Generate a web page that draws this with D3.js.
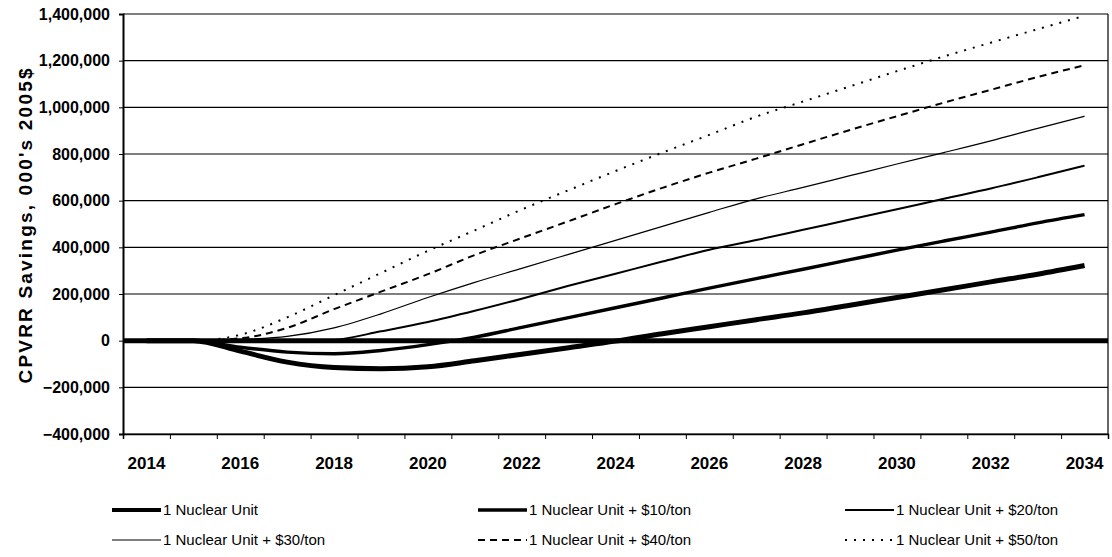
<!DOCTYPE html>
<html lang="en">
<head>
    <meta charset="UTF-8">
    <title>CPVRR Savings</title>
    <script src="https://d3js.org/d3.v7.min.js"></script>
    <style>
        body { margin: 0; background: #fff; }
        text { font-family: "Liberation Sans", Arial, sans-serif; fill: #000; }
        .tick-label { font-weight: bold; font-size: 16px; }
        .year-label { font-weight: bold; font-size: 17px; }
        .legend text { font-size: 15px; }
    </style>
</head>
<body>
    <div id="chart-container"></div>
    <script>
        // values, in thousands of 2005$
        const years = [2014, 2015, 2016, 2017, 2018, 2019, 2020, 2021, 2022, 2023, 2024,
                       2025, 2026, 2027, 2028, 2029, 2030, 2031, 2032, 2033, 2034];
        const nuclear = [0, 0, -45, -92, -115, -120, -112, -86, -58, -30, -2,
                         30, 60, 90, 119, 152, 185, 218, 252, 285, 322];
        const plus10 = [0, 0, -28, -49, -56, -42, -17, 15, 57, 99, 141,
                        183, 225, 266, 306, 347, 388, 427, 465, 505, 540];
        const plus20 = [0, 0, 0, -5, 3, 40, 80, 128, 180, 235, 287,
                        339, 390, 431, 475, 519, 563, 608, 652, 700, 750];
        const plus30 = [0, 0, 5, 18, 55, 115, 185, 250, 310, 370, 430,
                        490, 550, 608, 657, 707, 757, 806, 856, 910, 962];
        const plus40 = [0, 0, 10, 55, 135, 210, 285, 367, 440, 512, 585,
                        655, 720, 780, 842, 903, 962, 1020, 1075, 1130, 1180];
        const plus50 = [0, 0, 25, 100, 195, 290, 385, 473, 562, 645, 727,
                        806, 882, 960, 1025, 1090, 1155, 1218, 1277, 1335, 1392];
        const seriesNames = ["1 Nuclear Unit", "1 Nuclear Unit + $10/ton", "1 Nuclear Unit + $20/ton",
                             "1 Nuclear Unit + $30/ton", "1 Nuclear Unit + $40/ton", "1 Nuclear Unit + $50/ton"];
        const yTicks = [-400000, -200000, 0, 200000, 400000, 600000, 800000, 1000000, 1200000, 1400000];
        const labelYears = [2014, 2016, 2018, 2020, 2022, 2024, 2026, 2028, 2030, 2032, 2034];

        const allSeries = [nuclear, plus10, plus20, plus30, plus40, plus50];
        // line looks per series
        const styles = [
            { w: 5, dash: null },
            { w: 3.4, dash: null },
            { w: 2, dash: null },
            { w: 1.2, dash: null },
            { w: 2, dash: "7,5" },
            { w: 2, dash: "2,7" }
        ];

        const containerWidth = 1112;
        const containerHeight = 557;
        const plot = { left: 123, right: 1108, top: 14, bottom: 434 };

        const svg = d3.select("#chart-container")
            .append("svg")
            .attr("width", containerWidth)
            .attr("height", containerHeight);

        const x = d3.scaleBand()
            .domain(years)
            .range([plot.left, plot.right])
            .padding(0);
        const xc = d => x(d) + x.bandwidth() / 2;

        const y = d3.scaleLinear()
            .domain([-400000, 1400000])
            .range([plot.bottom, plot.top]);

        // gridlines
        svg.append("g")
            .selectAll("line")
            .data(yTicks)
            .enter()
            .append("line")
            .attr("x1", plot.left)
            .attr("x2", plot.right)
            .attr("y1", d => y(d))
            .attr("y2", d => y(d))
            .attr("stroke", "#000")
            .attr("stroke-width", 1.2);

        // right border
        svg.append("line")
            .attr("x1", plot.right).attr("x2", plot.right)
            .attr("y1", plot.top).attr("y2", plot.bottom)
            .attr("stroke", "#000").attr("stroke-width", 1.2);

        // y axis
        svg.append("g")
            .attr("transform", `translate(${plot.left},0)`)
            .call(d3.axisLeft(y).tickValues(yTicks).tickFormat(d3.format(",")).tickSize(4).tickPadding(9))
            .call(g => g.select(".domain").attr("stroke-width", 2))
            .call(g => g.selectAll("text").attr("class", "tick-label").style("font-family", null).style("font-size", null));

        // x axis: ticks between categories, labels every other year
        const xEdges = d3.scaleLinear()
            .domain([years[0] - 0.5, years[years.length - 1] + 0.5])
            .range([plot.left, plot.right]);
        svg.append("g")
            .attr("transform", `translate(0,${plot.bottom})`)
            .call(d3.axisBottom(xEdges).tickValues(years.map(d => d - 0.5)).tickFormat("").tickSize(5))
            .call(g => g.select(".domain").attr("stroke-width", 1.5));

        svg.append("g")
            .selectAll("text")
            .data(labelYears)
            .enter()
            .append("text")
            .attr("class", "year-label")
            .attr("x", d => xc(d))
            .attr("y", 469)
            .attr("text-anchor", "middle")
            .text(d => d);

        // y axis title
        svg.append("text")
            .attr("transform", "translate(32,226) rotate(-90)")
            .attr("text-anchor", "middle")
            .attr("textLength", 315)
            .attr("lengthAdjust", "spacing")
            .style("font-weight", "bold")
            .style("font-size", "19px")
            .text("CPVRR Savings, 000's 2005$");

        // thick zero line
        svg.append("line")
            .attr("x1", plot.left).attr("x2", plot.right)
            .attr("y1", y(0)).attr("y2", y(0))
            .attr("stroke", "#000").attr("stroke-width", 5);

        // series lines
        const line = d3.line()
            .x((d, i) => xc(years[i]))
            .y(d => y(d * 1000))
            .curve(d3.curveMonotoneX);

        allSeries.forEach((s, i) => {
            svg.append("path")
                .datum(s)
                .attr("d", line)
                .attr("fill", "none")
                .attr("stroke", "#000")
                .attr("stroke-width", styles[i].w)
                .attr("stroke-dasharray", styles[i].dash);
        });

        // legend, two rows of three
        const legendCols = [112, 478, 845];
        const legendRows = [510, 540];
        const legend = svg.append("g").attr("class", "legend");
        seriesNames.forEach((name, i) => {
            const lx = legendCols[i % 3];
            const ly = legendRows[Math.floor(i / 3)];
            legend.append("line")
                .attr("x1", lx).attr("x2", lx + 49)
                .attr("y1", ly).attr("y2", ly)
                .attr("stroke", "#000")
                .attr("stroke-width", Math.min(styles[i].w, 4))
                .attr("stroke-dasharray", styles[i].dash);
            legend.append("text")
                .attr("x", lx + 51)
                .attr("y", ly + 5)
                .text(name);
        });
    </script>
</body>
</html>
